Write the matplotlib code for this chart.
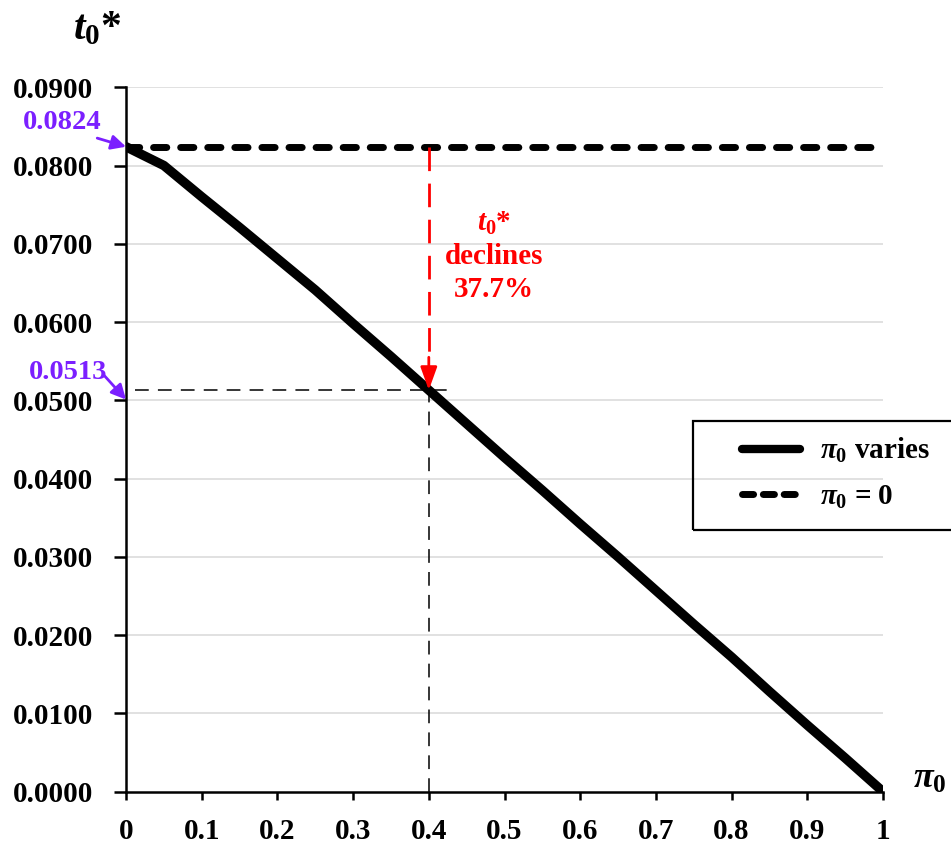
import numpy as np
import matplotlib.pyplot as plt
from matplotlib.lines import Line2D
from matplotlib.patches import Rectangle

plt.rcParams['font.family'] = 'Liberation Serif'
plt.rcParams['font.weight'] = 'bold'
plt.rcParams['font.size'] = 21
plt.rcParams['mathtext.fontset'] = 'custom'
plt.rcParams['mathtext.rm'] = 'Liberation Serif:bold'
plt.rcParams['mathtext.it'] = 'Liberation Serif:italic:bold'
plt.rcParams['mathtext.bf'] = 'Liberation Serif:bold'

# optimal t0* as pi0 goes from 0 to 1
pi0 = [0.0, 0.05, 0.1, 0.15, 0.2, 0.25, 0.3, 0.35, 0.4, 0.45, 0.5,
       0.55, 0.6, 0.65, 0.7, 0.75, 0.8, 0.85, 0.9, 0.95, 1.0]
t0_star = [0.0824, 0.0800, 0.0760, 0.0721, 0.0681, 0.0641, 0.0598, 0.0556,
           0.0513, 0.0470, 0.0427, 0.0385, 0.0342, 0.0300, 0.0257, 0.0214,
           0.0172, 0.0128, 0.0085, 0.0043, 0.0000]
t0_base = 0.0824      # pi0 = 0
pi0_mark = 0.4
t0_mark = 0.0513
decline_pct = 37.7

xticks = [0, 0.1, 0.2, 0.3, 0.4, 0.5, 0.6, 0.7, 0.8, 0.9, 1]
yticks = [0.0, 0.01, 0.02, 0.03, 0.04, 0.05, 0.06, 0.07, 0.08, 0.09]

purple = '#7B1FFF'
red = '#FF0000'

fig = plt.figure(figsize=(9.51, 8.43), dpi=100)
ax = fig.add_axes([0.1325, 0.0609, 0.796, 0.8356])

for y in yticks[1:]:
    ax.axhline(y, color='#d9d9d9', lw=1.1, zorder=0)

ax.plot(pi0, t0_star, color='black', lw=6.8, solid_joinstyle='round',
        solid_capstyle='round', zorder=4)
ax.plot([0, 1], [t0_base, t0_base], color='black', lw=5,
        dashes=(1.9, 2.0), dash_capstyle='round', zorder=3)

# guides at pi0 = 0.4
ax.plot([0.012, 0.435], [t0_mark, t0_mark], color='black', lw=1.1,
        dashes=(9, 6), zorder=2)
ax.plot([pi0_mark, pi0_mark], [0, 0.0535], color='black', lw=1.1,
        dashes=(9, 6), zorder=2)
ax.plot([pi0_mark, pi0_mark], [t0_base, 0.0553], color=red, lw=2,
        dashes=(8.5, 4.5), zorder=5)
ax.annotate('', xy=(pi0_mark, t0_mark), xytext=(pi0_mark, 0.0555),
            arrowprops=dict(arrowstyle='-|>,head_length=0.5,head_width=0.18',
                            color=red, lw=2, mutation_scale=28,
                            shrinkA=0, shrinkB=0),
            zorder=6)
ax.text(0.486, 0.0684,
        '$t_{\\mathrm{0}}$*\ndeclines\n' + f'{decline_pct}%',
        color=red, ha='center', va='center', linespacing=1.3, fontsize=21)

# value callouts on the y axis
ax.text(-0.0845, 0.0855, f'{t0_base:.4f}', color=purple, ha='center',
        va='center', fontsize=20.5, clip_on=False)
ax.annotate('', xy=(0, t0_base), xytext=(-0.038, 0.0835),
            annotation_clip=False,
            arrowprops=dict(arrowstyle='-|>', color=purple, lw=2,
                            mutation_scale=22, shrinkA=0, shrinkB=0))
ax.text(-0.077, 0.0535, f'{t0_mark:.4f}', color=purple, ha='center',
        va='center', fontsize=20.5, clip_on=False)
ax.annotate('', xy=(0, 0.0501), xytext=(-0.030, 0.0533),
            annotation_clip=False,
            arrowprops=dict(arrowstyle='-|>', color=purple, lw=2,
                            mutation_scale=22, shrinkA=0, shrinkB=0))

ax.set_xlim(0, 1)
ax.set_ylim(0, 0.09)
ax.set_xticks(xticks)
ax.set_xticklabels([f'{v:g}' for v in xticks])
ax.set_yticks(yticks)
ax.set_yticklabels([f'{v:.4f}' for v in yticks])
ax.tick_params(axis='y', direction='out', length=8.6, width=1.8, pad=15)
ax.tick_params(axis='x', direction='out', length=5.8, width=1.8, pad=13)
for side in ['top', 'right']:
    ax.spines[side].set_visible(False)
for side in ['left', 'bottom']:
    ax.spines[side].set_linewidth(1.8)

fig.text(0.102, 0.965, '$t_{\\mathrm{0}}$*', fontsize=30,
         ha='center', va='center')
fig.text(0.978, 0.075, '$\\pi_{\\mathrm{0}}$', fontsize=26,
         ha='center', va='center')

# legend box runs off the right edge
fig.patches.append(Rectangle((0.7287, 0.3713), 0.3, 0.1293,
                             transform=fig.transFigure, fill=False,
                             edgecolor='black', lw=1.6, clip_on=True))
handles = [Line2D([], [], color='black', lw=6, solid_capstyle='round'),
           Line2D([], [], color='black', lw=5, dashes=(1.6, 1.4),
                  dash_capstyle='round')]
ax.legend(handles, ['$\\pi_{\\mathrm{0}}$ varies', '$\\pi_{\\mathrm{0}}$ = 0'],
          loc='center left', bbox_to_anchor=(0.7802, 0.4383),
          bbox_transform=fig.transFigure, frameon=False, borderpad=0,
          borderaxespad=0, handlelength=2.0, handletextpad=0.68,
          labelspacing=0.62, fontsize=21)

fig.savefig('out.png', dpi=100)
